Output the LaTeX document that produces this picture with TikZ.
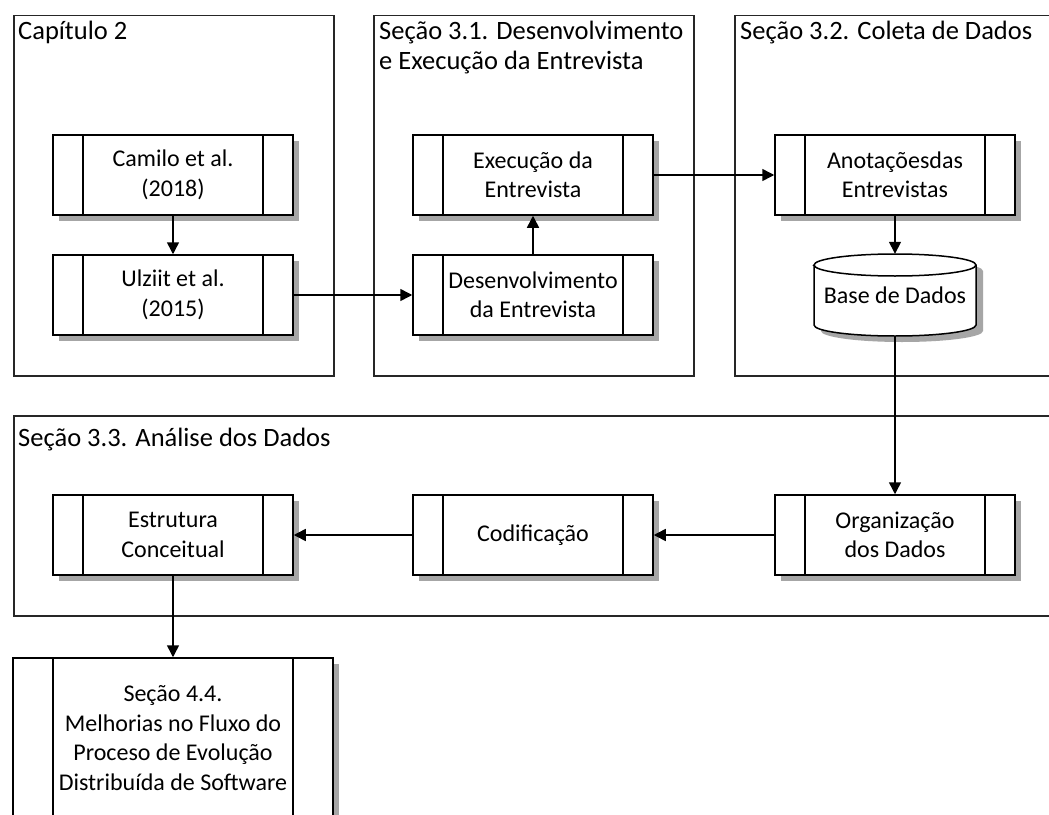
\documentclass[tikz,border=0pt]{standalone}
\usepackage{fontspec}
\setmainfont{Carlito}
\usetikzlibrary{shadows,arrows.meta}
\begin{document}
\begin{tikzpicture}[x=1bp,y=-1bp,
  container/.style={draw=black!85, line width=1.5bp, anchor=north west, inner sep=0pt},
  ctitle/.style={anchor=north west, inner sep=0pt, align=left, font=\fontsize{26.5bp}{30bp}\selectfont},
  predef/.style={draw=black, fill=white, line width=1.5bp, minimum width=240bp, minimum height=80bp,
    inner sep=2pt, align=center, font=\fontsize{24bp}{29.5bp}\selectfont,
    drop shadow={shadow xshift=6bp, shadow yshift=-6bp, fill=black!35, opacity=1},
    path picture={\draw[line width=1.5bp]
      ([xshift=#1]path picture bounding box.north west) -- ([xshift=#1]path picture bounding box.south west)
      ([xshift=-#1]path picture bounding box.north east) -- ([xshift=-#1]path picture bounding box.south east);}},
  predef/.default=30bp,
  flow/.style={line width=1.5bp, -{Triangle[length=12bp,width=12bp]}}
]
\useasboundingbox (0,0) rectangle (1049,815);
\clip (0,0) rectangle (1049,815);
\fill[white] (0,0) rectangle (1049,815);

% containers
\node[container, minimum width=320bp, minimum height=360bp] (cap2) at (13,15) {};
\node[container, minimum width=320bp, minimum height=360bp] (s31) at (373,15) {};
\node[container, minimum width=330bp, minimum height=360bp] (s32) at (734,15) {};
\node[container, minimum width=1050bp, minimum height=200bp] (s33) at (13,415) {};

\node[ctitle] (t2) at (18,21) {Capítulo 2};
\node[ctitle] (t31) at (379,21) {Seção 3.1. Desenvolvimento\\e Execução da Entrevista};
\node[ctitle] (t32) at (740,21) {Seção 3.2. Coleta de Dados};
\node[ctitle] (t33) at (18,428) {Seção 3.3. Análise dos Dados};

% process boxes
\node[predef] (camilo) at (173,175) {Camilo et al.\\(2018)};
\node[predef] (ulziit) at (173,295) {Ulziit et al.\\(2015)};
\node[predef] (exec) at (533,175) {Execução da\\Entrevista};
\node[predef] (desenv) at (533,295) {Desenvolvimento\\da Entrevista};
\node[predef] (anot) at (895,175) {Anotaçõesdas\\Entrevistas};
\node[predef] (org) at (895,535) {Organização\\dos Dados};
\node[predef] (codif) at (533,535) {Codificação};
\node[predef] (estr) at (173,535) {Estrutura\\Conceitual};
\node[predef=40bp, minimum width=320bp, minimum height=160bp] (melh) at (173,738)
  {Seção 4.4.\\Melhorias no Fluxo do\\Proceso de Evolução\\Distribuída de Software};

% database cylinder
\fill[black!35] (821,271) -- (821,331) arc[start angle=180,end angle=360,x radius=81bp,y radius=11bp]
  -- (983,271) arc[start angle=0,end angle=180,x radius=81bp,y radius=11bp] -- cycle;
\filldraw[fill=white, draw=black, line width=1.5bp]
  (814,265) -- (814,325) arc[start angle=180,end angle=360,x radius=81bp,y radius=11bp]
  -- (976,265) arc[start angle=0,end angle=180,x radius=81bp,y radius=11bp] -- cycle;
\draw[line width=1.5bp] (814,265) arc[start angle=180,end angle=360,x radius=81bp,y radius=11bp];
\node[minimum width=162bp, minimum height=82bp, inner sep=0pt, font=\fontsize{24bp}{29.5bp}\selectfont] (db) at (895,295) {\raisebox{-9bp}{Base de Dados}};

% connectors
\draw[flow] (camilo) -- (ulziit);
\draw[flow] (ulziit) -- (desenv);
\draw[flow] (desenv) -- (exec);
\draw[flow] (exec) -- (anot);
\draw[flow] (anot) -- (db);
\draw[flow] (db) -- (org);
\draw[flow] (org) -- (codif);
\draw[flow] (codif) -- (estr);
\draw[flow] (estr) -- (melh);
\end{tikzpicture}
\end{document}
